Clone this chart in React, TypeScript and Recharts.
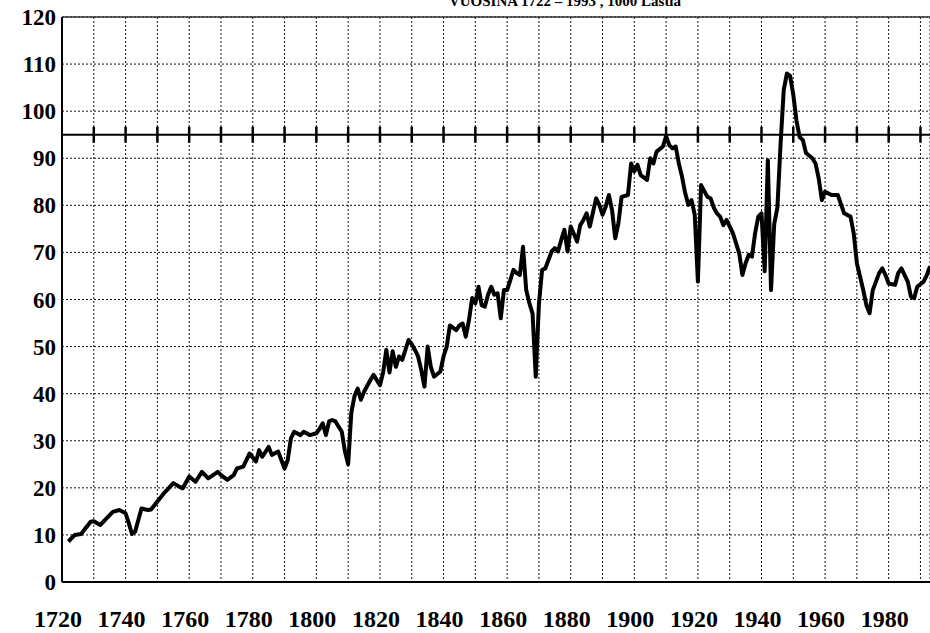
import React from 'react';
import { ComposedChart, Line, Scatter, XAxis, YAxis, CartesianGrid, ReferenceLine } from 'recharts';

const years = [
  1722, 1724, 1726, 1729, 1730, 1732, 1734, 1736, 1738, 1740, 1741, 1742, 1743, 1745, 1747, 1748,
  1750, 1752, 1753, 1755, 1757, 1758, 1760, 1762, 1764, 1766, 1769, 1770, 1772, 1774, 1775, 1777,
  1779, 1781, 1782, 1783, 1785, 1786, 1788, 1790, 1791, 1792, 1793, 1795, 1796, 1798, 1800, 1801,
  1802, 1803, 1804, 1805, 1806, 1808, 1809, 1810, 1811, 1812, 1813, 1814, 1815, 1817, 1818, 1820,
  1821, 1822, 1823, 1824, 1825, 1826, 1827, 1829, 1830, 1831, 1832, 1833, 1834, 1835, 1836, 1837,
  1839, 1840, 1841, 1842, 1844, 1845, 1846, 1847, 1848, 1849, 1850, 1851, 1852, 1853, 1854, 1855,
  1856, 1857, 1858, 1859, 1860, 1861, 1862, 1863, 1864, 1865, 1866, 1867, 1868, 1869, 1870, 1871,
  1872, 1874, 1875, 1876, 1877, 1878, 1879, 1880, 1882, 1883, 1884, 1885, 1886, 1888, 1889, 1890,
  1891, 1892, 1893, 1894, 1895, 1896, 1898, 1899, 1900, 1901, 1902, 1904, 1905, 1906, 1907, 1909,
  1910, 1911, 1912, 1913, 1914, 1915, 1916, 1917, 1918, 1919, 1920, 1921, 1923, 1924, 1925, 1926,
  1927, 1928, 1929, 1931, 1933, 1934, 1935, 1936, 1937, 1938, 1939, 1940, 1941, 1942, 1943, 1944,
  1945, 1946, 1947, 1948, 1949, 1950, 1951, 1952, 1953, 1954, 1956, 1957, 1958, 1959, 1960, 1962,
  1964, 1966, 1968, 1969, 1970, 1972, 1973, 1974, 1975, 1977, 1978, 1979, 1980, 1982, 1983, 1984,
  1986, 1987, 1988, 1989, 1991, 1992, 1993,
];

const tonnage = [
  8.6, 10.0, 10.2, 12.8, 12.9, 12.1, 13.5, 14.9, 15.3, 14.6, 12.5, 10.2, 10.7, 15.6, 15.3, 15.4,
  17.1, 18.8, 19.5, 21.0, 20.2, 19.9, 22.4, 21.3, 23.4, 22.0, 23.4, 22.7, 21.7, 22.7, 24.1, 24.5,
  27.3, 25.6, 28.0, 26.6, 28.7, 27.0, 27.7, 24.1, 25.9, 30.5, 31.9, 31.2, 31.9, 31.2, 31.6, 32.5,
  33.7, 31.2, 34.1, 34.4, 34.1, 31.9, 27.7, 25.0, 36.0, 39.5, 41.1, 38.7, 40.4, 42.9, 44.0, 41.8,
  44.5, 49.3, 44.5, 49.0, 45.7, 47.9, 47.2, 51.4, 50.5, 49.3, 47.9, 45.0, 41.5, 50.0, 45.7, 43.6,
  44.7, 47.9, 50.0, 54.5, 53.5, 54.5, 54.9, 52.1, 55.6, 60.3, 59.2, 62.7, 58.8, 58.5, 61.0, 62.7,
  61.0, 61.3, 56.0, 62.0, 62.0, 64.1, 66.3, 65.6, 65.2, 71.2, 62.0, 59.2, 57.0, 43.6, 59.0, 66.3,
  66.6, 70.2, 70.9, 70.2, 72.6, 74.8, 70.2, 75.5, 72.3, 75.8, 76.9, 78.3, 75.5, 81.5, 80.1, 78.0,
  79.7, 82.2, 79.0, 73.0, 76.2, 81.8, 82.2, 88.9, 87.2, 88.6, 86.4, 85.4, 90.0, 88.9, 91.4, 92.5,
  94.7, 92.8, 92.1, 92.5, 88.9, 86.1, 82.6, 80.1, 81.1, 78.0, 63.8, 84.3, 81.8, 81.5, 79.5, 78.3,
  77.6, 75.8, 76.9, 74.1, 69.8, 65.2, 67.7, 69.5, 69.1, 74.1, 77.6, 78.3, 66.0, 89.6, 62.0, 76.0,
  79.5, 93.0, 104.5, 108.0, 107.5, 103.5, 98.0, 94.5, 93.9, 91.1, 90.0, 88.9, 85.7, 81.1, 82.9, 82.2,
  82.2, 78.3, 77.6, 74.1, 67.7, 62.0, 58.8, 57.1, 62.0, 65.6, 66.6, 65.2, 63.4, 63.1, 65.6, 66.6,
  63.8, 60.6, 60.3, 62.7, 63.8, 65.2, 67.0,
];

const decadeTicks = [1720, 1730, 1740, 1750, 1760, 1770, 1780, 1790, 1800, 1810, 1820, 1830, 1840, 1850, 1860, 1870, 1880, 1890, 1900, 1910, 1920, 1930, 1940, 1950, 1960, 1970, 1980, 1990];
const xLabels = [1720, 1740, 1760, 1780, 1800, 1820, 1840, 1860, 1880, 1900, 1920, 1940, 1960, 1980];
const yTicks = [0, 10, 20, 30, 40, 50, 60, 70, 80, 90, 100, 110, 120];
const markerYears = [1730, 1740, 1750, 1760, 1770, 1780, 1790, 1800, 1810, 1820, 1830, 1840, 1850, 1860, 1870, 1880, 1890, 1900, 1910, 1920, 1930, 1940, 1950, 1960, 1970, 1980, 1990];
const referenceLevel = 95;
const title = 'VUOSINA 1722 – 1993 , 1000 Lästiä';

const data = years.map((year, i) => ({ year, value: tonnage[i] }));
const markerData = markerYears.map((year) => ({ year, mark: referenceLevel }));

const FONT = '"Liberation Serif", "Times New Roman", serif';

const XTick = (props: any) => {
  const { x, payload } = props;
  if (!xLabels.includes(payload.value)) return <g />;
  return (
    <text x={x - 4} y={627} textAnchor="middle" fontFamily={FONT} fontWeight="bold" fontSize={24} fill="#000">
      {payload.value}
    </text>
  );
};

const YTick = (props: any) => {
  const { y, payload } = props;
  return (
    <text x={56} y={y + 8} textAnchor="end" fontFamily={FONT} fontWeight="bold" fontSize={23} fill="#000">
      {payload.value}
    </text>
  );
};

const MarkShape = (props: any) => {
  const { cx, cy } = props;
  return <line x1={cx} x2={cx} y1={cy - 8} y2={cy + 8} stroke="#000" strokeWidth={2.5} />;
};

export default function App() {
  return (
    <div style={{ position: 'absolute', left: 0, top: 0, width: 930, height: 633, background: '#fff', overflow: 'hidden' }}>
      <div
        style={{
          position: 'absolute',
          left: 0,
          width: 1130,
          top: -8,
          textAlign: 'center',
          fontFamily: FONT,
          fontWeight: 'bold',
          fontSize: 15,
          lineHeight: '18px',
          color: '#000',
          whiteSpace: 'nowrap',
        }}
      >
        {title}
      </div>
      <ComposedChart width={930} height={633} data={data} margin={{ top: 17, right: 0, bottom: 0, left: 0 }}>
        <CartesianGrid stroke="#111" strokeDasharray="2 2" strokeWidth={1} />
        <XAxis
          dataKey="year"
          type="number"
          domain={[1720, 1993]}
          ticks={decadeTicks}
          interval={0}
          height={51}
          tickLine={false}
          axisLine={{ stroke: '#000', strokeWidth: 2 }}
          tick={<XTick />}
          allowDataOverflow
        />
        <YAxis
          type="number"
          domain={[0, 120]}
          ticks={yTicks}
          interval={0}
          width={62}
          tickLine={false}
          axisLine={{ stroke: '#000', strokeWidth: 2 }}
          tick={<YTick />}
        />
        <ReferenceLine y={120} stroke="#333" strokeWidth={1.5} />
        <ReferenceLine y={referenceLevel} stroke="#000" strokeWidth={2} />
        <Scatter data={markerData} dataKey="mark" shape={<MarkShape />} isAnimationActive={false} />
        <Line
          type="linear"
          dataKey="value"
          stroke="#000"
          strokeWidth={4}
          dot={false}
          isAnimationActive={false}
          strokeLinejoin="round"
        />
      </ComposedChart>
    </div>
  );
}
